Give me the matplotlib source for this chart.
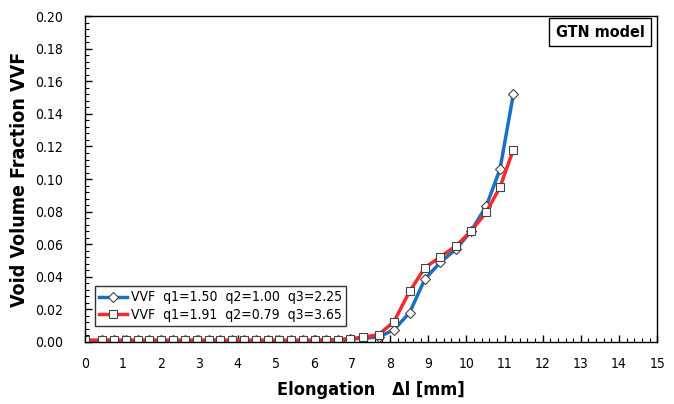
import numpy as np
import matplotlib
matplotlib.use("Agg")
import matplotlib.pyplot as plt
from matplotlib import font_manager
from matplotlib.ticker import MultipleLocator

# 細めのフォントを探す (無ければ DejaVu Sans)
narrow = None
for f in font_manager.fontManager.ttflist:
    low = f.fname.lower()
    if ('narrow' in low or 'condensed' in low) and 'bold' not in low and 'oblique' not in low and 'italic' not in low:
        narrow = f.name
        break
if narrow is not None:
    plt.rcParams['font.family'] = [narrow, 'DejaVu Sans']
    plt.rcParams['font.stretch'] = 'condensed'
    scale = 1.0
else:
    plt.rcParams['font.family'] = ['DejaVu Sans']
    scale = 0.8

# データ (読み取り値)
elong = [0, 0.45, 0.76, 1.07, 1.38, 1.69, 2.00, 2.31, 2.62, 2.93, 3.24, 3.55,
         3.86, 4.17, 4.48, 4.79, 5.10, 5.41, 5.72, 6.03, 6.33, 6.63, 6.95,
         7.30, 7.70, 8.10, 8.51, 8.91, 9.32, 9.73, 10.12, 10.52, 10.88, 11.23]
vvf_a = [0.001] * 20 + [0.0011, 0.0013, 0.0017, 0.0024, 0.0030, 0.0075,
                        0.018, 0.0385, 0.049, 0.057, 0.068, 0.0834, 0.106, 0.152]
vvf_b = [0.001] * 20 + [0.0012, 0.0015, 0.0020, 0.0030, 0.0045, 0.0125,
                        0.031, 0.0456, 0.0523, 0.059, 0.068, 0.0796, 0.095, 0.118]
label_a = 'VVF  q1=1.50  q2=1.00  q3=2.25'
label_b = 'VVF  q1=1.91  q2=0.79  q3=3.65'

fig = plt.figure(figsize=(6.74, 4.04), dpi=100)
ax = fig.add_axes([0.126, 0.1535, 0.849, 0.8065])

ax.plot(elong, vvf_a, '-', color='#1a6fc0', lw=2.5, marker='D', ms=5,
        mfc='white', mec='#444444', mew=0.8, label=label_a)
ax.plot(elong, vvf_b, '-', color='#f52a2a', lw=2.5, marker='s', ms=6,
        mfc='white', mec='#444444', mew=0.8, label=label_b)

ax.set_xlim(0, 15)
ax.set_ylim(0, 0.20)
ax.xaxis.set_major_locator(MultipleLocator(1))
ax.xaxis.set_minor_locator(MultipleLocator(0.2))
ax.yaxis.set_major_locator(MultipleLocator(0.02))
ax.yaxis.set_minor_locator(MultipleLocator(0.004))
ax.yaxis.set_major_formatter(lambda v, p: f'{v:.2f}')
ax.tick_params(which='both', direction='in', top=False, right=False,
               labelsize=10 * scale, color='black')
ax.tick_params(which='major', length=5, width=1)
ax.tick_params(axis='x', which='major', pad=11)
ax.tick_params(axis='y', which='major', pad=16)
ax.tick_params(which='minor', length=3, width=0.8)
for s in ax.spines.values():
    s.set_linewidth(1.0)

ax.set_xlabel('Elongation   Δl [mm]', fontsize=13 * scale, fontweight='bold', labelpad=7)
ax.set_ylabel('Void Volume Fraction VVF', fontsize=14 * scale, fontweight='bold', labelpad=4)

leg = ax.legend(loc='lower left', bbox_to_anchor=(0.0175, 0.049), fontsize=10 * scale,
                frameon=True, fancybox=False, edgecolor='black', borderaxespad=0,
                handlelength=2.0, borderpad=0.3, labelspacing=0.25,
                handletextpad=0.3)
leg.get_frame().set_linewidth(1.0)

ax.text(0.978, 0.974, 'GTN model', transform=ax.transAxes, ha='right', va='top',
        fontsize=11.5 * scale, fontweight='bold',
        bbox=dict(boxstyle='square,pad=0.4', fc='white', ec='black', lw=1.0))

fig.savefig('out.png', dpi=100)
